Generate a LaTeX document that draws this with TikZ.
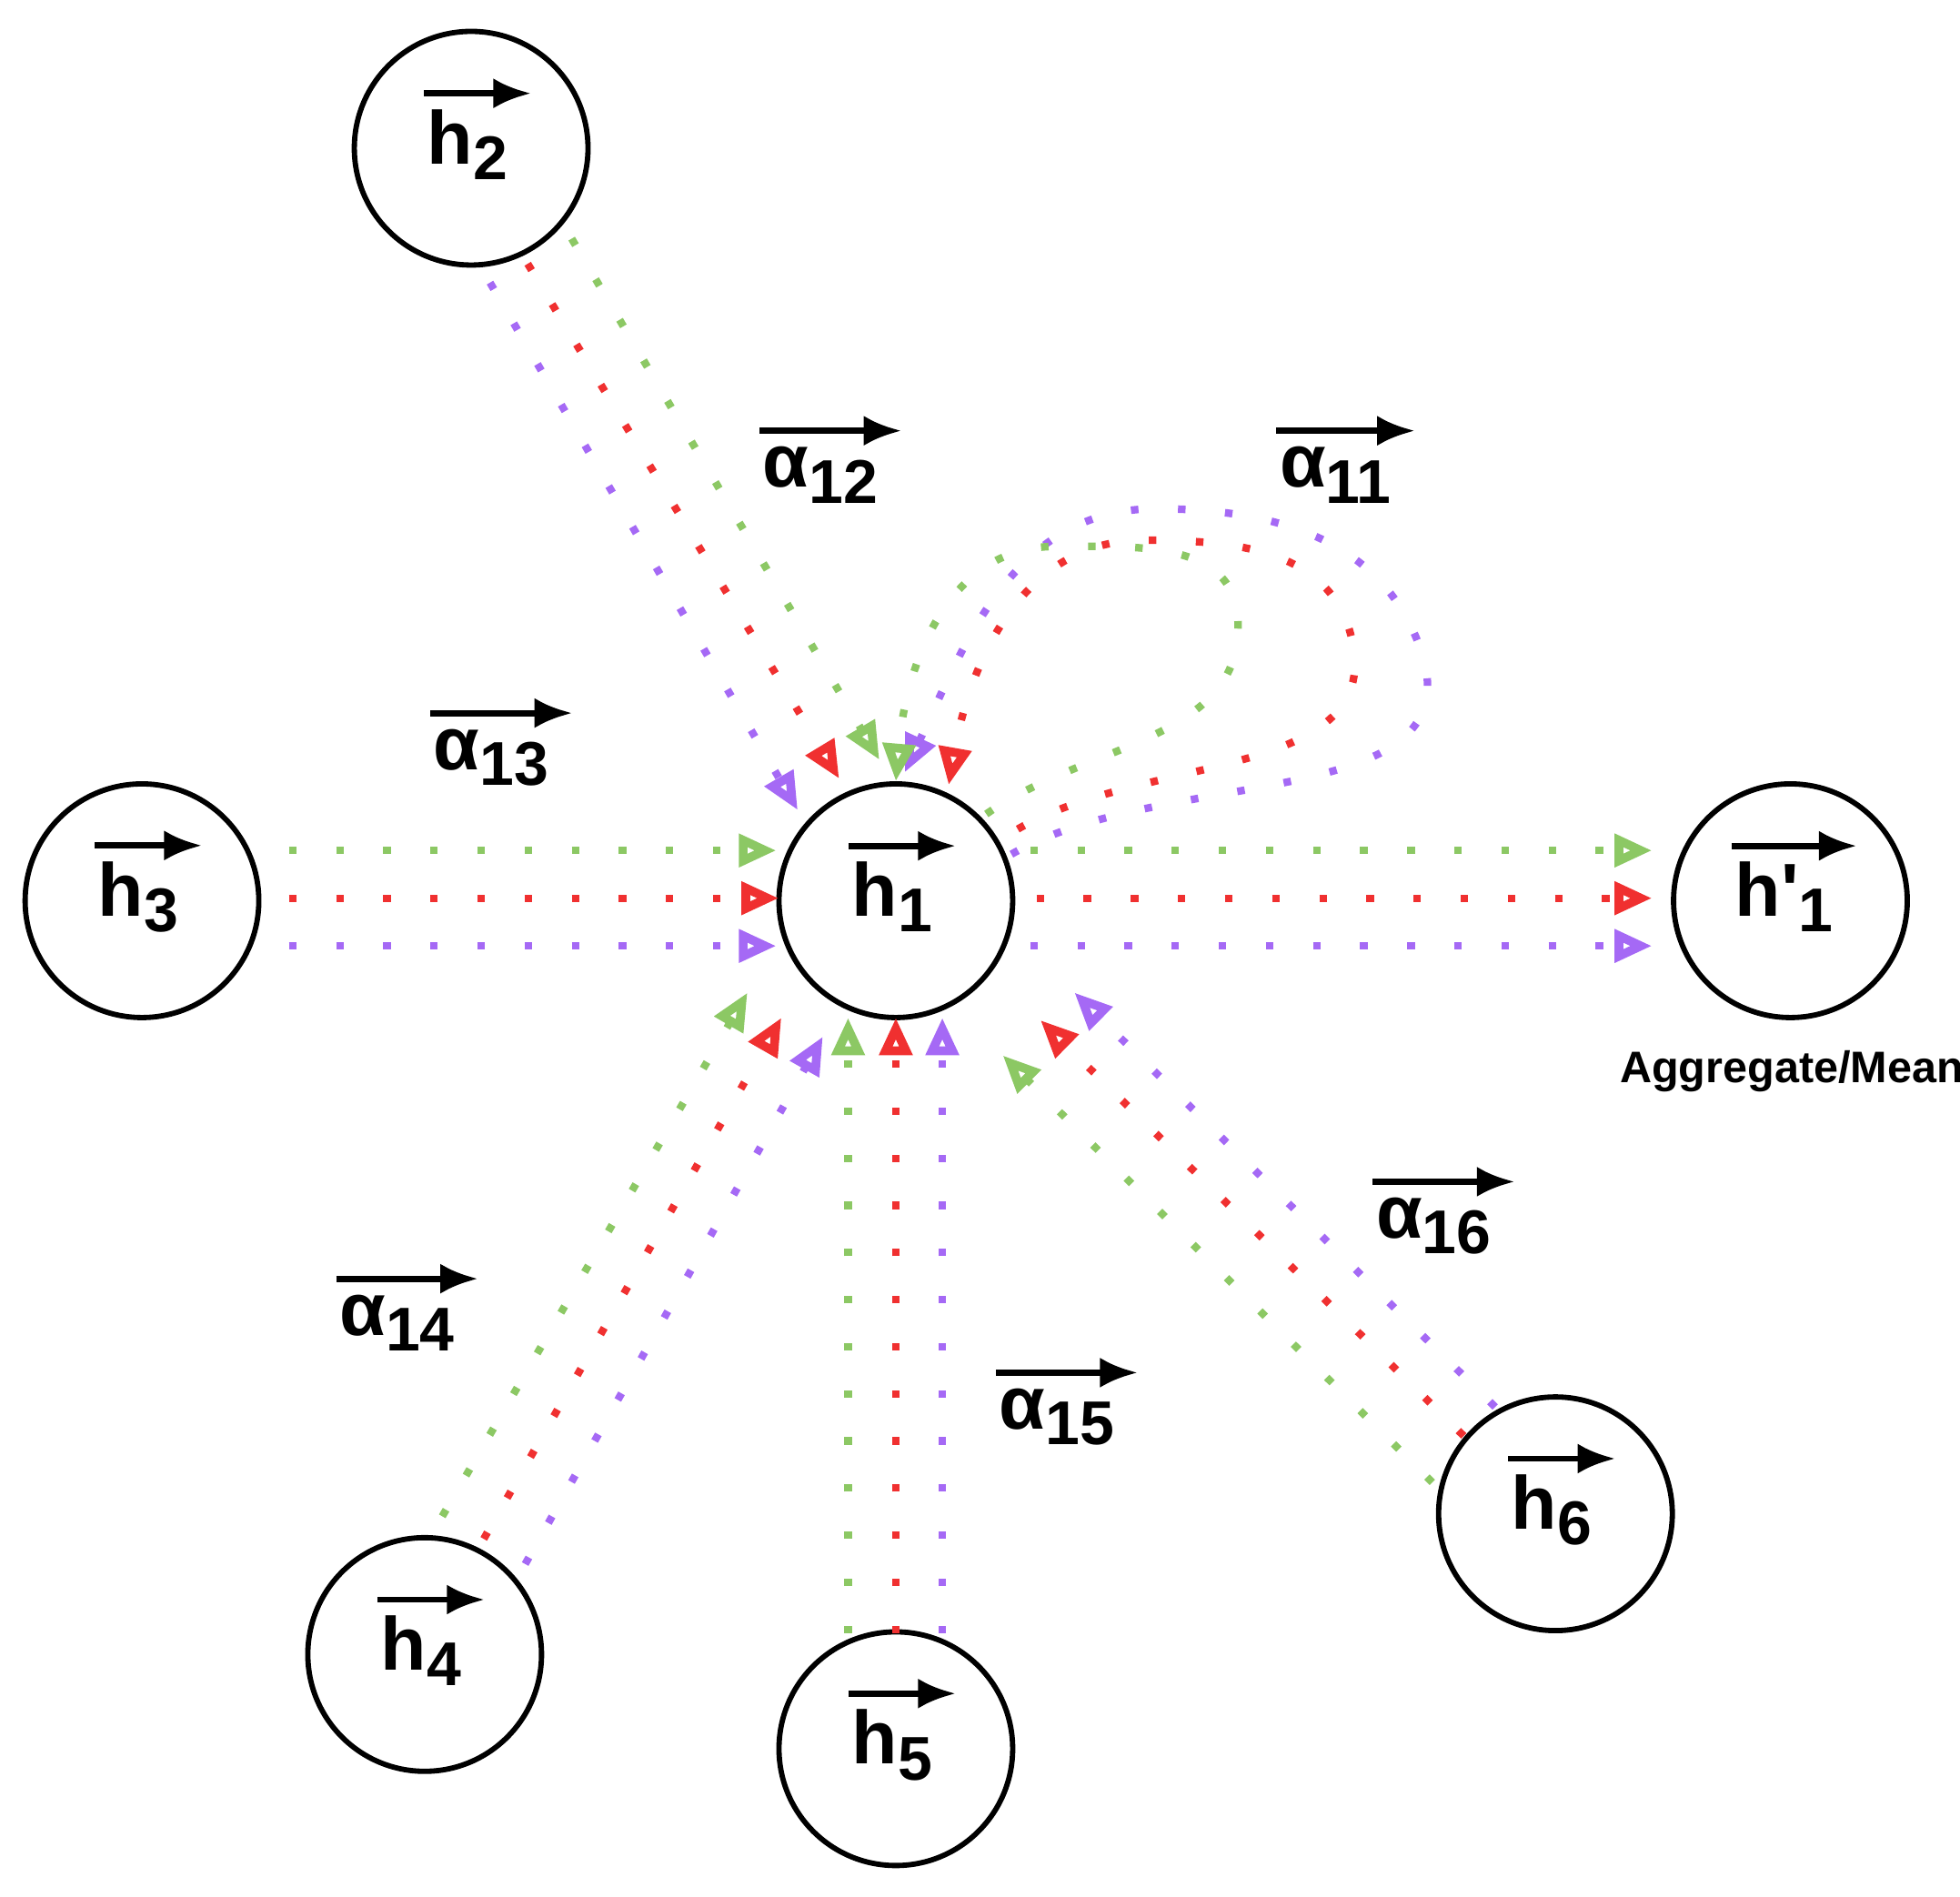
\documentclass[tikz,border=0pt]{standalone}
\usepackage{fontspec}
\setmainfont{Liberation Sans}
\usetikzlibrary{arrows.meta}
\definecolor{cg}{RGB}{140,200,100}
\definecolor{cr}{RGB}{240,48,48}
\definecolor{cp}{RGB}{165,105,245}
\newcommand\lbltxt[2]{\bfseries #1\raisebox{-0.4ex}{\fontsize{14}{14}\selectfont #2}}
\tikzset{
 vnode/.style={circle,draw,line width=1.2pt,minimum size=1.86cm,inner sep=0},
 vlab/.style={inner sep=0,font=\fontsize{17}{17}\selectfont\bfseries},
 vecarrow/.style={line width=1.4pt,-{Latex[length=0.3cm,width=0.24cm]}},
 dots/.style={line width=0.06cm,dash pattern=on 0.06cm off 0.315cm,-{Triangle[open,length=0.3cm,width=0.25cm,line width=2pt]}},
 gr/.style={dots,draw=cg},
 rd/.style={dots,draw=cr},
 pu/.style={dots,draw=cp},
}
\newcommand\vlabel[4]{% name, pos, base, sub
 \node[vlab] (#1) at #2 {\lbltxt{#3}{#4}};
 \draw[vecarrow] ([shift={(-0.02,0.12)}]#1.north west) -- ([shift={(0.18,0.12)}]#1.north east);}
\begin{document}
\begin{tikzpicture}
\useasboundingbox (0,0) rectangle (15.6,15.1);
% nodes
\node[vnode] (h2) at (3.75,13.92) {};
\node[vnode] (h3) at (1.13,7.93) {};
\node[vnode] (h1) at (7.13,7.93) {};
\node[vnode] (hp) at (14.25,7.93) {};
\node[vnode] (h4) at (3.38,1.93) {};
\node[vnode] (h5) at (7.13,1.18) {};
\node[vnode] (h6) at (12.38,3.05) {};
\vlabel{l2}{(3.72,13.95)}{h}{2}
\vlabel{l3}{(1.10,7.96)}{h}{3}
\vlabel{l1}{(7.10,7.96)}{h}{1}
\vlabel{lp}{(14.20,7.96)}{h\textquotesingle}{1}
\vlabel{l4}{(3.35,1.96)}{h}{4}
\vlabel{l5}{(7.10,1.21)}{h}{5}
\vlabel{l6}{(12.35,3.08)}{h}{6}
\vlabel{a12}{(6.53,11.32)}{α}{12}
\vlabel{a11}{(10.63,11.32)}{α}{11}
\vlabel{a13}{(3.91,9.07)}{α}{13}
\vlabel{a14}{(3.16,4.57)}{α}{14}
\vlabel{a15}{(8.41,3.82)}{α}{15}
\vlabel{a16}{(11.41,5.34)}{α}{16}
\node[font=\fontsize{10}{10}\selectfont\bfseries] (agg) at (14.26,6.57) {Aggregate/Mean};
% h3 -> h1
\draw[gr] (2.30,8.33) -- (6.18,8.33);
\draw[rd] (2.30,7.95) -- (6.20,7.95);
\draw[pu] (2.30,7.57) -- (6.18,7.57);
% h1 -> h'1
\draw[gr] (8.20,8.33) -- (13.15,8.33);
\draw[rd] (8.25,7.95) -- (13.15,7.95);
\draw[pu] (8.20,7.57) -- (13.15,7.57);
% h5 -> h1
\draw[gr] (6.75,2.10) -- (6.75,7.00);
\draw[rd] (7.13,2.10) -- (7.13,7.00);
\draw[pu] (7.50,2.10) -- (7.50,7.00);
% h4 -> h1
\draw[gr] (3.52,3.03) -- (5.95,7.20);
\draw[rd] (3.85,2.85) -- (6.22,7.00);
\draw[pu] (4.18,2.65) -- (6.55,6.85);
% h6 -> h1
\draw[gr] (11.40,3.30) -- (7.98,6.70);
\draw[rd] (11.65,3.67) -- (8.28,6.98);
\draw[pu] (11.90,3.90) -- (8.55,7.20);
% h2 -> h1
\draw[pu] (3.90,12.85) -- (6.35,8.65);
\draw[rd] (4.20,13.00) -- (6.68,8.90);
\draw[gr] (4.55,13.20) -- (7.00,9.05);
% self loop
\draw[pu] (8.05,8.30) to[out=30,in=-70] (11.30,9.95) to[out=110,in=0] (9.20,11.05) to[out=180,in=65] (7.20,8.95);
\draw[rd] (8.10,8.50) to[out=30,in=-75] (10.75,10.05) to[out=105,in=0] (9.10,10.80) to[out=180,in=80] (7.55,8.85);
\draw[gr] (7.85,8.62) to[out=35,in=-85] (9.85,10.20) to[out=95,in=0] (8.40,10.75) to[out=180,in=85] (7.13,8.88);
\end{tikzpicture}
\end{document}
